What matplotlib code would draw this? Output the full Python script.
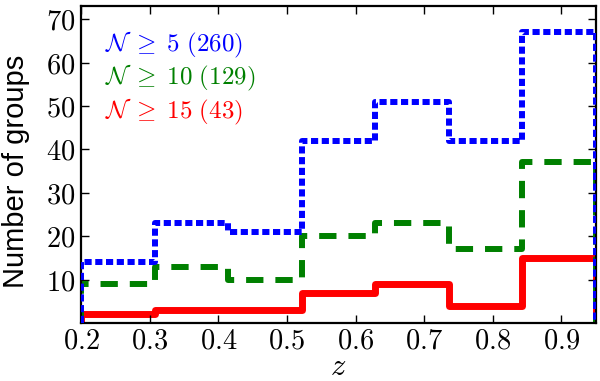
import numpy as np
import matplotlib
matplotlib.use("Agg")
import matplotlib.pyplot as plt

plt.rcParams['mathtext.fontset'] = 'cm'
plt.rcParams['font.family'] = ['DejaVu Serif']

# Data
z_min, z_max, n_bins = 0.2, 0.95, 7
edges = np.linspace(z_min, z_max, n_bins + 1)
counts_n5 = [14, 23, 21, 42, 51, 42, 67]
counts_n10 = [9, 13, 10, 20, 23, 17, 37]
counts_n15 = [2, 3, 3, 7, 9, 4, 15]
labels = [r'$\mathcal{N}\;\geq\;5\ (260)$', r'$\mathcal{N}\;\geq\;10\ (129)$', r'$\mathcal{N}\;\geq\;15\ (43)$']
colors = ['#0000ff', '#008000', '#ff0000']
xticks = [0.2, 0.3, 0.4, 0.5, 0.6, 0.7, 0.8, 0.9]
yticks = [10, 20, 30, 40, 50, 60, 70]

fig = plt.figure(figsize=(6.0, 3.81), dpi=100)
ax = fig.add_axes([0.135, 0.152, 0.858, 0.832])

ax.stairs(counts_n5, edges, baseline=0, color=colors[0], linewidth=4.3,
          linestyle=(0, (1.2, 0.6)), joinstyle='round', zorder=3)
ax.stairs(counts_n10, edges, baseline=0, color=colors[1], linewidth=4.3,
          linestyle=(0, (2.9, 2.0)), joinstyle='round', zorder=2)
ax.stairs(counts_n15, edges, baseline=0, color=colors[2], linewidth=5.0,
          linestyle='-', joinstyle='round', zorder=1)

ax.set_xlim(z_min, z_max)
ax.set_ylim(0, 73)
ax.set_xticks(xticks)
ax.set_xticklabels([r'$%.1f$' % t for t in xticks])
ax.set_yticks(yticks)
ax.set_yticklabels([r'$%d$' % t for t in yticks])
ax.tick_params(direction='in', top=True, right=True, length=6, width=1.0,
               labelsize=20.5, pad=4)
ax.tick_params(axis='x', pad=3)
for s in ax.spines.values():
    s.set_linewidth(1.6)

ax.set_xlabel(r'$z$', fontsize=22)
ax.xaxis.label.set_va('bottom')
ax.xaxis.set_label_coords(0.5, -0.186)
ax.set_ylabel('Number of groups', fontsize=21, family='Liberation Sans')
ax.yaxis.label.set_va('center')
ax.yaxis.set_label_coords(-0.126, 0.48)

ys = [0.877, 0.773, 0.666]
for lab, c, y in zip(labels, colors, ys):
    ax.text(0.046, y, lab, color=c, fontsize=18, transform=ax.transAxes,
            ha='left', va='center')

fig.savefig('out.png', dpi=100)
